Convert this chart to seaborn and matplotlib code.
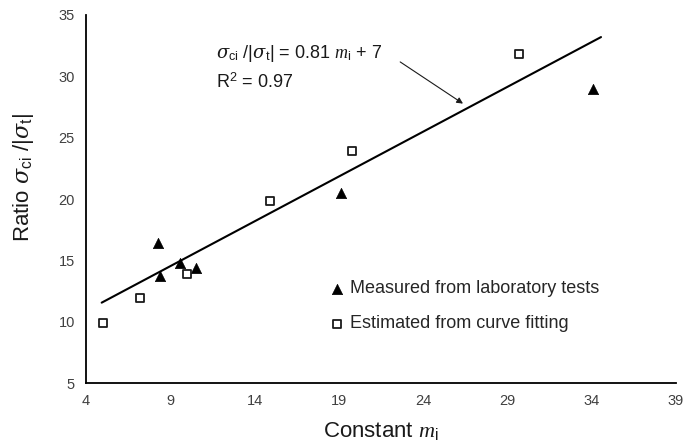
import pandas as pd
import matplotlib
matplotlib.use("Agg")
import matplotlib.pyplot as plt
import seaborn as sns

# ==============================
# Data
# ==============================
measured_m = [8.25, 8.4, 9.6, 10.5, 19.1, 34.1]
measured_ratio = [16.4, 13.75, 14.8, 14.35, 20.5, 28.95]

estimated_m = [5.03, 7.2, 9.97, 14.9, 19.8, 29.7]
estimated_ratio = [9.9, 11.9, 13.85, 19.85, 23.9, 31.85]

# drawn trend line (end points)
fit_m = [4.93, 34.55]
fit_ratio = [11.55, 33.2]

x_ticks = [4, 9, 14, 19, 24, 29, 34, 39]
y_ticks = [5, 10, 15, 20, 25, 30, 35]

sig = r"\mathsf{\sigma}"
eq_text = rf"${sig}_{{\mathrm{{ci}}}}$ /|${sig}_{{\mathrm{{t}}}}$| = 0.81 $m_{{\mathrm{{i}}}}$ + 7"
r2_text = r"R$^{\mathrm{2}}$ = 0.97"
x_label = r"Constant $m_{\mathrm{i}}$"
y_label = rf"Ratio ${sig}_{{\mathrm{{ci}}}}$ /|${sig}_{{\mathrm{{t}}}}$|"

measured = pd.DataFrame({"m": measured_m, "ratio": measured_ratio})
estimated = pd.DataFrame({"m": estimated_m, "ratio": estimated_ratio})
fit = pd.DataFrame({"m": fit_m, "ratio": fit_ratio})

# ==============================
# Style
# ==============================
sns.set_theme(style="white")
plt.rcParams["font.family"] = ["Liberation Sans", "DejaVu Sans"]
plt.rcParams["mathtext.fontset"] = "custom"
plt.rcParams["mathtext.rm"] = "Liberation Sans"
plt.rcParams["mathtext.it"] = "Liberation Serif:italic"
plt.rcParams["mathtext.sf"] = "DejaVu Serif:italic"

fig = plt.figure(figsize=(6.88, 4.41), dpi=100)
ax = fig.add_axes([0.125, 0.1315, 0.8576, 0.8345])

# ==============================
# Plot
# ==============================
sns.lineplot(data=fit, x="m", y="ratio", color="black", linewidth=1.5, ax=ax)
sns.scatterplot(data=measured, x="m", y="ratio", marker="^", s=55, color="black",
                edgecolor="black", linewidth=0.5, label="Measured from laboratory tests",
                ax=ax, zorder=3)
sns.scatterplot(data=estimated, x="m", y="ratio", marker="s", s=38, color="white",
                edgecolor="#1a1a1a", linewidth=1.3, label="Estimated from curve fitting",
                ax=ax, zorder=3)

ax.set_xlim(4, 39)
ax.set_ylim(5, 35)
ax.set_xticks(x_ticks)
ax.set_yticks(y_ticks)
ax.tick_params(length=0, pad=8, labelsize=10.5, labelcolor="#404040")

for side in ["top", "right"]:
    ax.spines[side].set_visible(False)
for side in ["left", "bottom"]:
    ax.spines[side].set_color("black")
    ax.spines[side].set_linewidth(1.3)

ax.set_xlabel(x_label, fontsize=16, color="#1a1a1a")
ax.set_ylabel(y_label, fontsize=16, color="#1a1a1a")
ax.xaxis.set_label_coords(0.5, -0.1)
ax.yaxis.set_label_coords(-0.085, 0.56)

# equation + arrow
ax.text(11.7, 31.85, eq_text, fontsize=13, va="center", ha="left", color="#1a1a1a")
ax.text(11.7, 29.55, r2_text, fontsize=13, va="center", ha="left", color="#1a1a1a")
ax.annotate("", xy=(26.5, 27.65), xytext=(22.5, 31.3),
            arrowprops=dict(arrowstyle="-|>", color="#1a1a1a", lw=0.8, mutation_scale=9))

ax.legend(loc="upper left", bbox_to_anchor=(0.413, 0.279), frameon=False, fontsize=13,
          handlelength=0.8, handletextpad=0.3, labelspacing=1.0,
          borderpad=0, borderaxespad=0)

fig.savefig("out.png", dpi=100)
